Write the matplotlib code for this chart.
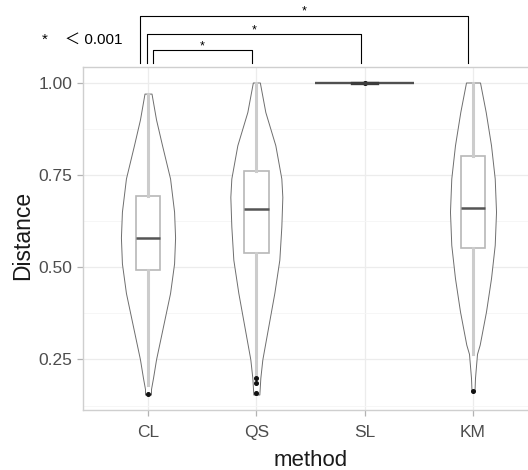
import matplotlib
matplotlib.use("Agg")
import matplotlib.pyplot as plt

plt.rcParams['font.family'] = ['Liberation Sans', 'Noto Sans CJK JP', 'DejaVu Sans']

# groups on the x axis
methods = ["CL", "QS", "SL", "KM"]

# violin outlines: y value and relative half width
cl_y = [0.155, 0.17, 0.20, 0.25, 0.34, 0.43, 0.51, 0.58, 0.65, 0.74, 0.83, 0.90, 0.97]
cl_w = [3, 3, 5, 8, 15, 22, 26, 27, 26, 22, 14, 8, 3.5]
qs_y = [0.155, 0.20, 0.25, 0.34, 0.43, 0.52, 0.61, 0.69, 0.74, 0.83, 0.92, 1.00]
qs_w = [3, 4, 6, 12, 18, 23, 25, 26, 25, 19, 9, 3.5]
sl_y = [1.0, 1.0]
sl_w = [1, 1]
km_y = [0.165, 0.20, 0.265, 0.29, 0.38, 0.47, 0.56, 0.65, 0.74, 0.83, 0.92, 1.00]
km_w = [1.5, 2, 4, 6.7, 13, 18, 21.7, 23, 21.7, 18, 12.7, 7]

# box plot summaries
q1 = [0.492, 0.539, 1.0, 0.551]
med = [0.580, 0.657, 1.0, 0.659]
q3 = [0.693, 0.761, 1.0, 0.800]
whislo = [0.18, 0.21, 1.0, 0.265]
whishi = [0.97, 1.00, 1.0, 1.00]
fliers = [[0.155], [0.20, 0.185, 0.16], [1.0], [0.165]]

# significance brackets (group index pairs) and their labels
pairs = [(0, 1), (0, 2), (0, 3)]
pair_labels = ["*", "*", "*"]
note = "*    \uff1c 0.001"

fig = plt.figure(figsize=(5.28, 4.70), dpi=100)
ax = fig.add_axes([83 / 528, 60 / 470, 455 / 528, 343 / 470])

pos = [1, 2, 3, 4]
profiles = [(cl_y, cl_w), (qs_y, qs_w), (sl_y, sl_w), (km_y, km_w)]
vpstats = []
for ys, ws in profiles:
    vpstats.append({"coords": ys, "vals": ws, "mean": 0, "median": 0,
                    "min": ys[0], "max": ys[-1]})
vp = ax.violin(vpstats, positions=pos, widths=[0.50, 0.48, 0.91, 0.425],
               showmeans=False, showextrema=False, showmedians=False)
for b in vp["bodies"]:
    b.set_facecolor("white")
    b.set_edgecolor("#6e6e6e")
    b.set_linewidth(0.7)
    b.set_alpha(1)
    b.set_zorder(2)
# SL has no spread, so its violin is just a flat line
vp["bodies"][2].set_edgecolor("#505050")
vp["bodies"][2].set_linewidth(1.7)

bstats = []
for i in range(len(methods)):
    bstats.append({"med": med[i], "q1": q1[i], "q3": q3[i],
                   "whislo": whislo[i], "whishi": whishi[i], "fliers": fliers[i]})
ax.bxp(bstats, positions=pos, widths=0.23, patch_artist=True, showcaps=False,
       boxprops=dict(facecolor="white", edgecolor="#b8b8b8", linewidth=1.2),
       whiskerprops=dict(color="#cccccc", linewidth=2.2),
       medianprops=dict(color="#555555", linewidth=1.8),
       flierprops=dict(marker="o", markersize=2.6, markerfacecolor="#111111",
                       markeredgecolor="#111111"),
       zorder=3)
# the SL box collapses to a line
ax.plot([3 - 0.115, 3 + 0.115], [1.0, 1.0], color="#3c3c3c", lw=2.4, zorder=4)

ax.set_xlim(0.4, 4.6)
ax.set_ylim(0.113, 1.042)
ax.set_xticks(pos)
ax.set_xticklabels(methods)
ax.set_yticks([0.25, 0.5, 0.75, 1.0])
ax.set_yticklabels(["0.25", "0.50", "0.75", "1.00"])
ax.set_yticks([0.125, 0.375, 0.625, 0.875], minor=True)
ax.tick_params(axis="both", which="major", labelsize=12.5, labelcolor="#4d4d4d",
               color="#b3b3b3", length=4.3, width=0.9, pad=3.5)
ax.tick_params(axis="x", which="major", pad=6.5)
ax.tick_params(axis="y", which="minor", length=0)
ax.grid(True, which="major", color="#ececec", lw=0.9, zorder=0)
ax.grid(True, which="minor", axis="y", color="#f5f5f5", lw=0.6, zorder=0)
ax.set_axisbelow(True)
for s in ax.spines.values():
    s.set_color("#cfcfcf")
    s.set_linewidth(1.0)

fig.text(23 / 528, 1 - 235 / 470, "Distance", rotation=90, ha="center", va="center",
         fontsize=16.5, color="#1a1a1a")
fig.text(311 / 528, 1 - 460 / 470, "method", ha="center", va="center",
         fontsize=16, color="#1a1a1a")

# brackets above the panel
tops = [1.0496, 1.096, 1.149]
offs = [(0.046, -0.037), (-0.01, -0.037), (-0.074, -0.046)]
for (a, b), lab, top, (oa, ob) in zip(pairs, pair_labels, tops, offs):
    xa, xb = pos[a] + oa, pos[b] + ob
    ax.plot([xa, xa, xb, xb], [1.0117, top, top, 1.0117], color="black", lw=0.8,
            transform=ax.get_xaxis_transform(), clip_on=False)
    ax.text((xa + xb) / 2, top + 0.003, lab, ha="center", va="baseline", fontsize=9,
            transform=ax.get_xaxis_transform())

fig.text(42 / 528, 1 - 40 / 470, note, ha="left", va="center", fontsize=11)

fig.savefig("out.png", dpi=100)
